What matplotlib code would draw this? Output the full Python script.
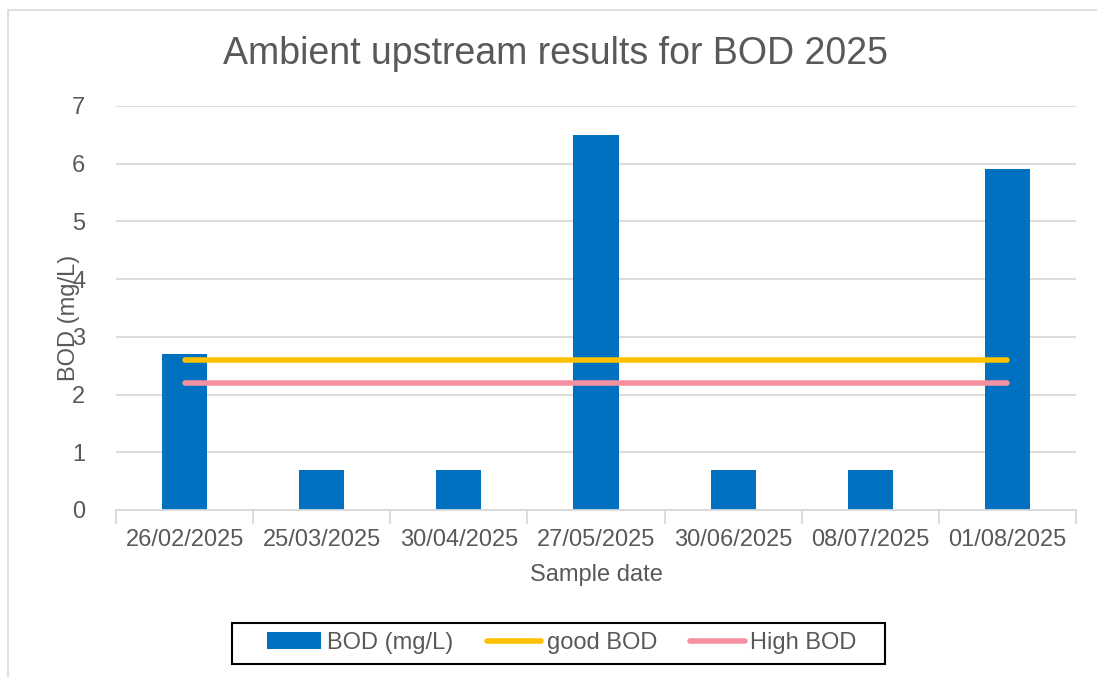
import matplotlib.pyplot as plt
from matplotlib.patches import Rectangle

plt.rcParams['font.family'] = ['Liberation Sans', 'DejaVu Sans']

# data
dates = ['26/02/2025', '25/03/2025', '30/04/2025', '27/05/2025',
         '30/06/2025', '08/07/2025', '01/08/2025']
bod = [2.7, 0.7, 0.7, 6.5, 0.7, 0.7, 5.9]
good_bod = [2.6] * len(dates)
high_bod = [2.2] * len(dates)

W, H = 1097, 677
fig = plt.figure(figsize=(W / 100, H / 100), dpi=100)
ax = fig.add_axes([116 / W, 1 - 510 / H, (1076 - 116) / W, (510 - 106) / H])

# outer chart frame
fig.patches.append(Rectangle((8 / W, -0.05), 1.1, 1 - 10 / H + 0.05,
                             transform=fig.transFigure, fill=False,
                             edgecolor='#d9d9d9', linewidth=1.2))

grey = '#595959'
x = list(range(len(dates)))
bars = ax.bar(x, bod, width=0.33, color='#0070c0', label='BOD (mg/L)', zorder=2)
l1, = ax.plot(x, good_bod, color='#ffc000', linewidth=4, solid_capstyle='round',
              label='good BOD', zorder=3)
l2, = ax.plot(x, high_bod, color='#f4909f', linewidth=4, solid_capstyle='round',
              label='High BOD', zorder=3)

ax.set_xlim(-0.5, len(dates) - 0.5)
ax.set_ylim(0, 7)
ax.set_yticks(range(8))
ax.yaxis.grid(True, color='#d9d9d9', linewidth=1.3, zorder=0)
ax.set_axisbelow(True)

ax.set_xticks(x)
ax.set_xticklabels(dates)
ax.set_xticks([i - 0.5 for i in range(len(dates) + 1)], minor=True)
ax.tick_params(axis='x', which='major', length=0, pad=14, labelsize=17, labelcolor=grey)
ax.tick_params(axis='x', which='minor', length=10, width=1.3, color='#d9d9d9')
ax.tick_params(axis='y', length=0, pad=22, labelsize=17, labelcolor=grey)

for s in ['top', 'right', 'left']:
    ax.spines[s].set_visible(False)
ax.spines['bottom'].set_color('#d9d9d9')
ax.spines['bottom'].set_linewidth(1.3)

fig.text(556 / W, 1 - 54 / H, 'Ambient upstream results for BOD 2025',
         fontsize=27, color=grey, ha='center', va='center')
ax.set_xlabel('Sample date', fontsize=17, color=grey, labelpad=9)
ax.set_ylabel('BOD (mg/L)', fontsize=17, color=grey)
ax.yaxis.set_label_coords(-0.037, 0.475)

# legend box drawn separately (reference has wide side padding)
fig.patches.append(Rectangle((232 / W, 1 - 664 / H), (885 - 232) / W, 41 / H,
                             transform=fig.transFigure, fill=False,
                             edgecolor='black', linewidth=1.5))
leg = fig.legend([bars, l1, l2], ['BOD (mg/L)', 'good BOD', 'High BOD'],
                 loc='center', bbox_to_anchor=(562 / W, 1 - 643 / H), ncol=3,
                 fontsize=17, frameon=False, handlelength=2.3,
                 handletextpad=0.25, columnspacing=1.4, borderpad=0,
                 borderaxespad=0)
for t in leg.get_texts():
    t.set_color(grey)

fig.savefig('out.png', dpi=100)
